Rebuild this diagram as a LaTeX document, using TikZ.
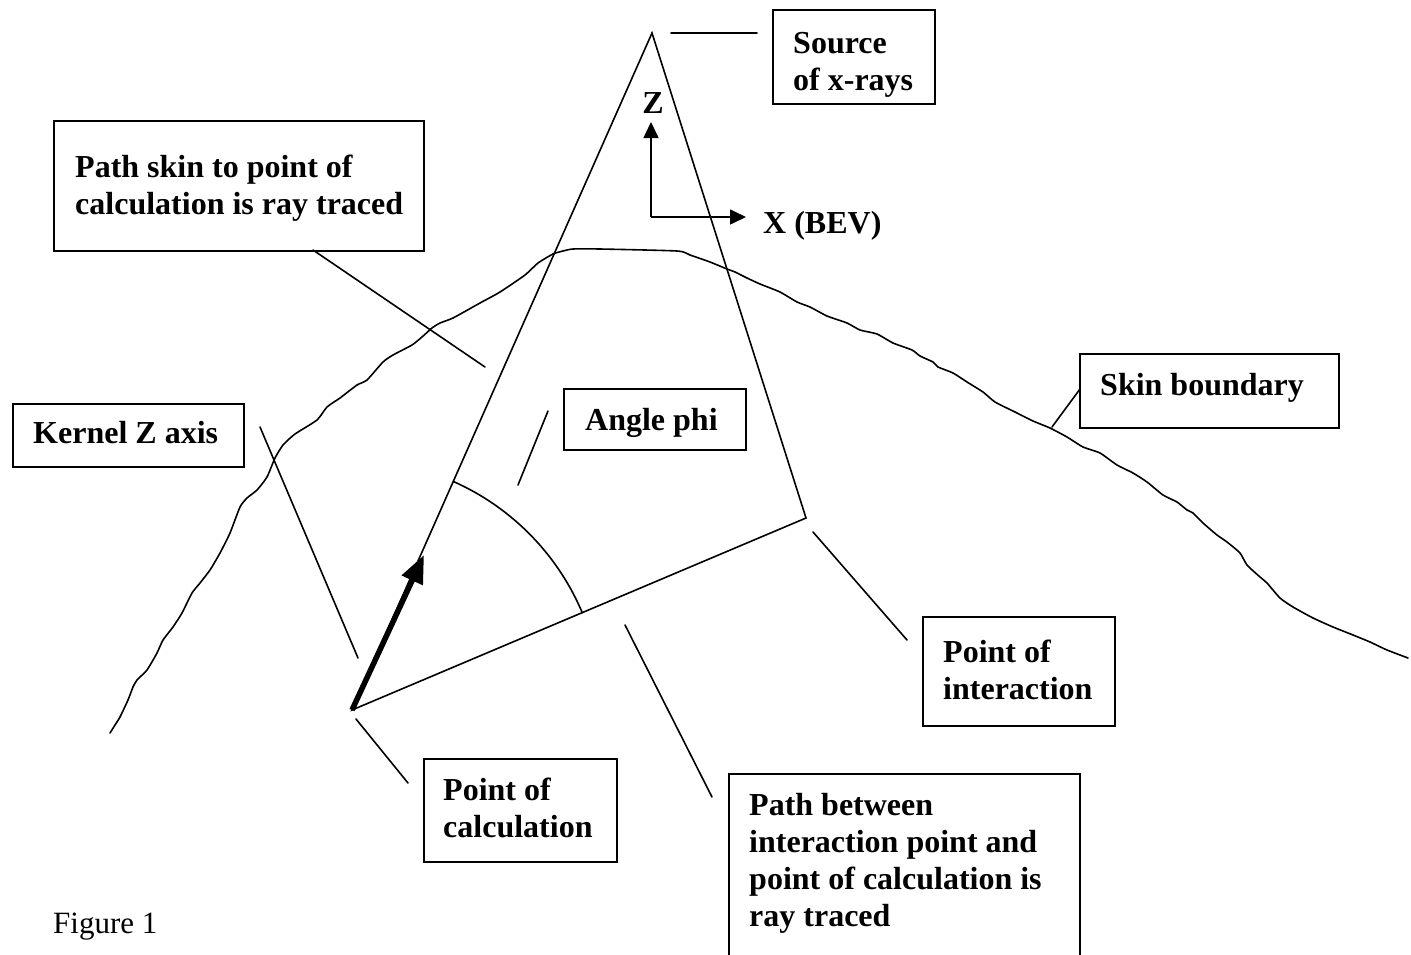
\documentclass[tikz,border=0pt]{standalone}
\usepackage{fontspec}
\setmainfont{Liberation Serif}
\usetikzlibrary{arrows.meta}
\newcommand\boxlines[1]{\begin{tabular}[t]{@{}l@{}}#1\end{tabular}}
\begin{document}
\begin{tikzpicture}[x=1pt,y=-1pt,
  wire/.style={line width=1.6pt, line cap=round},
  frame/.style={draw, line width=1.8pt, inner sep=0pt, anchor=north west},
  lbl/.style={anchor=base west, inner sep=0pt, font=\fontsize{32}{37}\selectfont\bfseries},
]
\useasboundingbox (0,0) rectangle (1411,954);
\clip (0,0) rectangle (1411,954);

% ---- label frames ----
\node[frame, minimum width=162pt, minimum height=94pt]  (srcbox)    at (772,9)   {};
\node[frame, minimum width=370pt, minimum height=130pt] (skinpath)  at (53,120)  {};
\node[frame, minimum width=231pt, minimum height=63pt]  (kernelbox) at (12,403)  {};
\node[frame, minimum width=182pt, minimum height=61pt]  (phibox)    at (563,388) {};
\node[frame, minimum width=259pt, minimum height=74pt]  (skinbox)   at (1079,353){};
\node[frame, minimum width=192pt, minimum height=109pt] (pibox)     at (922,616) {};
\node[frame, minimum width=193pt, minimum height=103pt] (pcbox)     at (423,758) {};
\node[frame, minimum width=351pt, minimum height=220pt] (pathbox)   at (728,773) {};

% ---- label texts ----
\node[lbl] (srctext)    at (793,53)   {\boxlines{Source\\of x-rays}};
\node[lbl] (skintext)   at (75,177)   {\boxlines{Path skin to point of\\calculation is ray traced}};
\node[lbl] (kerneltext) at (33,443)   {Kernel Z axis};
\node[lbl] (phitext)    at (585,430)  {Angle phi};
\node[lbl] (boundtext)  at (1100,395) {Skin boundary};
\node[lbl] (pitext)     at (943,662)  {\boxlines{Point of\\interaction}};
\node[lbl] (pctext)     at (443,800)  {\boxlines{Point of\\calculation}};
\node[lbl] (pathtext)   at (749,815)  {\boxlines{Path between\\interaction point and\\point of calculation is\\ray traced}};
\node[anchor=base west, inner sep=0pt, font=\fontsize{31}{36}\selectfont] (fig) at (53,933) {Figure 1};

% ---- beam geometry ----
\coordinate (apex) at (652,33);
\coordinate (pc)   at (352,710);
\coordinate (pi)   at (806,518);
\coordinate (ktip) at (424,555);
\draw[wire, line join=miter] (pc) -- (apex) -- (pi) -- cycle;

% kernel Z axis arrow
\draw[line width=5.5pt, -{Triangle[length=28pt,width=22pt]}] (pc) -- (ktip);

% angle phi arc about the point of calculation
\draw[wire] plot[smooth, domain=-66.1:-22.9, samples=30]
  ({352+250*cos(\x)},{710+250*sin(\x)});

% BEV axes
\coordinate (ax0) at (651,217);
\coordinate (axz) at (651,122);
\coordinate (axx) at (746,217);
\draw[wire, line cap=butt, -{Triangle[length=16pt,width=15pt]}] (ax0) -- (axz);
\draw[wire, line cap=butt, -{Triangle[length=16pt,width=15pt]}] (ax0) -- (axx);
\node[lbl, anchor=base] (zlbl) at (653,113) {Z};
\node[lbl] (xlbl) at (763,233) {X (BEV)};

% ---- skin boundary ----
\draw[wire, line join=round] plot[smooth, tension=0.35] coordinates {
 (110,733) (115,725) (120,717) (128,700) (133,687) (137,680) (147,670)
 (157,653) (163,640) (173,627) (182,613) (192,593) (200,583) (210,570)
 (220,553) (230,533) (240,507) (247,498) (257,490) (267,477) (275,458)
 (283,445) (295,434) (317,420) (327,407) (340,398) (357,385) (367,380)
 (383,362) (393,355) (412,345) (422,337) (432,328) (440,323) (453,318)
 (480,303) (500,292) (525,275) (538,263) (553,254) (563,251) (573,249)
 (600,249) (677,251) (690,255) (710,262) (727,269) (735,272) (747,278)
 (760,284) (780,292) (797,302) (810,307) (827,316) (847,323) (860,330)
 (877,334) (893,343) (912,350) (920,356) (933,362) (938,367) (953,373)
 (967,382) (983,392) (995,402) (1015,412) (1033,421) (1050,428) (1067,437)
 (1083,447) (1100,453) (1117,465) (1133,473) (1147,482) (1163,495)
 (1177,502) (1187,510) (1193,513) (1203,523) (1217,535) (1227,542)
 (1240,553) (1247,565) (1260,577) (1267,583) (1280,598) (1293,607)
 (1313,618) (1333,627) (1353,635) (1370,642) (1387,650) (1408,658)};

% ---- leader lines ----
\coordinate (srcA) at (671,33);   \coordinate (srcB) at (757,33);
\coordinate (skA)  at (313,250);  \coordinate (skB)  at (485,367);
\coordinate (kzA)  at (260,427);  \coordinate (kzB)  at (358,658);
\coordinate (phA)  at (548,411);  \coordinate (phB)  at (518,485);
\coordinate (sbA)  at (1052,427); \coordinate (sbB)  at (1080,389);
\coordinate (piA)  at (813,532);  \coordinate (piB)  at (907,640);
\coordinate (pcA)  at (356,719);  \coordinate (pcB)  at (408,783);
\coordinate (ptA)  at (625,625);  \coordinate (ptB)  at (712,797);
\foreach \a/\b in {srcA/srcB, skA/skB, kzA/kzB, phA/phB, sbA/sbB, piA/piB, pcA/pcB, ptA/ptB}
  \draw[wire] (\a) -- (\b);
\end{tikzpicture}
\end{document}
